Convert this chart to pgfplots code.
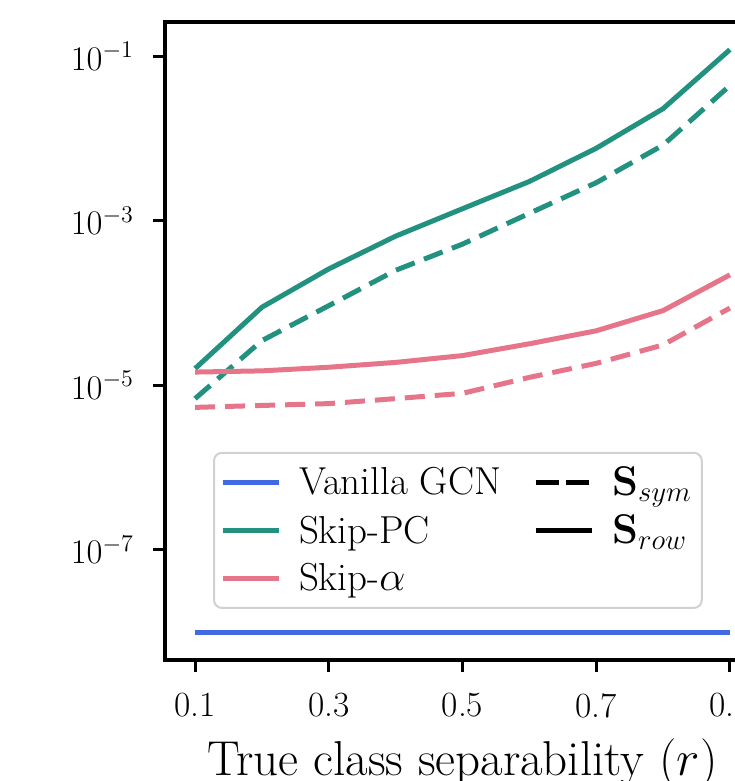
\documentclass[border=0pt]{standalone}
\usepackage{pgfplots}
\pgfplotsset{compat=1.18}
\definecolor{vanblue}{HTML}{4169E1}
\definecolor{pcteal}{HTML}{23917F}
\definecolor{alphapink}{HTML}{E6758A}

\begin{document}
\begin{tikzpicture}
\begin{axis}[
  at={(0,0)}, anchor=south west,
  scale only axis,
  width=297.5pt, height=319pt,
  xmin=0.055, xmax=0.945,
  ymode=log, ymin=4.6e-9, ymax=0.26,
  xtick={0.1,0.3,0.5,0.7,0.9},
  xticklabels={0.1,0.3,0.5,0.7,0.9},
  ytick={1e-7,1e-5,1e-3,1e-1},
  yminorticks=false,
  tick pos=left, tick align=outside,
  major tick length=6pt,
  major tick style={black, line width=1.5pt},
  axis line style={line width=1.6pt},
  tick label style={font=\fontsize{17.7}{20}\selectfont},
  xticklabel style={yshift=-7pt},
  yticklabel style={xshift=-6pt},
  xlabel={True class separability ($r$)},
  xlabel style={font=\fontsize{24.5}{28}\selectfont,
    at={(axis description cs:0.5,0)}, anchor=base, yshift=-57.5pt},
  legend columns=2,
  legend cell align=left,
  legend image code/.code={\draw[#1] (0pt,0pt) -- (28pt,0pt);},
  legend style={
    at={(axis description cs:0.0807,0.08)}, anchor=south west,
    draw=black!18, line width=1pt, rounded corners=4pt,
    font=\fontsize{19.5}{22}\selectfont,
    inner xsep=3pt, inner ysep=5pt,
    row sep=4.5pt,
    /tikz/every odd column/.append style={column sep=7pt},
    /tikz/every even column/.append style={column sep=14pt},
  },
]
% data: x = r, y = value on log scale
\addplot[vanblue, line width=2.5pt, forget plot] coordinates {
(0.1,1e-8)(0.2,1e-8)(0.3,1e-8)(0.4,1e-8)(0.5,1e-8)(0.6,1e-8)(0.7,1e-8)(0.8,1e-8)(0.9,1e-8)
};
\addplot[pcteal, line width=2.5pt, forget plot] coordinates {
(0.1,1.6e-5)(0.2,8.9e-5)(0.3,2.6e-4)(0.4,6.5e-4)(0.5,1.4e-3)(0.6,3.0e-3)(0.7,7.6e-3)(0.8,2.3e-2)(0.9,1.2e-1)
};
\addplot[pcteal, line width=2.5pt, dash pattern=on 10pt off 5pt, forget plot] coordinates {
(0.1,6.9e-6)(0.2,3.5e-5)(0.3,9.3e-5)(0.4,2.5e-4)(0.5,5.2e-4)(0.6,1.23e-3)(0.7,2.9e-3)(0.8,8.3e-3)(0.9,4.4e-2)
};
\addplot[alphapink, line width=2.5pt, forget plot] coordinates {
(0.1,1.45e-5)(0.2,1.5e-5)(0.3,1.66e-5)(0.4,1.9e-5)(0.5,2.3e-5)(0.6,3.2e-5)(0.7,4.6e-5)(0.8,8.1e-5)(0.9,2.2e-4)
};
\addplot[alphapink, line width=2.5pt, dash pattern=on 10pt off 5pt, forget plot] coordinates {
(0.1,5.4e-6)(0.2,5.7e-6)(0.3,6.0e-6)(0.4,6.9e-6)(0.5,8.0e-6)(0.6,1.25e-5)(0.7,1.85e-5)(0.8,3.1e-5)(0.9,8.7e-5)
};
% legend, filled row by row
\addlegendimage{vanblue, line width=2.5pt}
\addlegendentry{Vanilla GCN}
\addlegendimage{black, line width=2.5pt, dash pattern=on 11.5pt off 3.5pt}
\addlegendentry{$\mathbf{S}_{sym}$}
\addlegendimage{pcteal, line width=2.5pt}
\addlegendentry{Skip-PC}
\addlegendimage{black, line width=2.5pt}
\addlegendentry{$\mathbf{S}_{row}$}
\addlegendimage{alphapink, line width=2.5pt}
\addlegendentry{Skip-$\alpha$}
\end{axis}
\pgfresetboundingbox
\useasboundingbox (-82.5pt,-60.5pt) rectangle (284.5pt,330pt);
\end{tikzpicture}
\end{document}
